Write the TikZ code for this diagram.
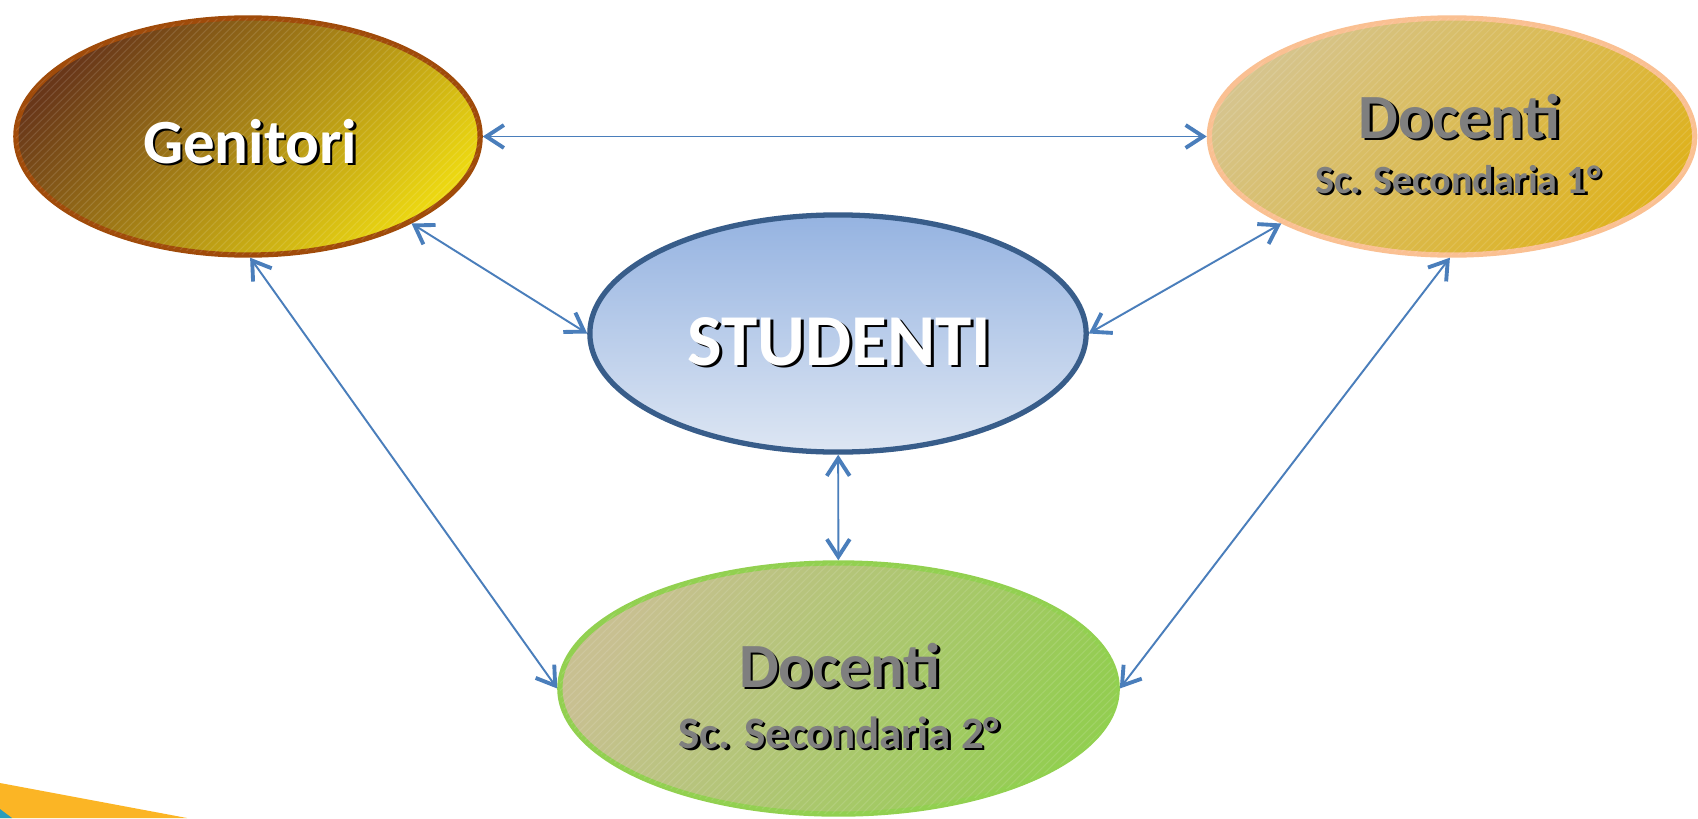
\documentclass[tikz,border=0pt]{standalone}
\usepackage{fontspec}
\setmainfont{Carlito}
\usetikzlibrary{shapes.geometric,arrows.meta,patterns.meta}

\definecolor{linkblue}{RGB}{74,126,187}
\definecolor{genbrown}{RGB}{105,55,25}
\definecolor{genmid}{RGB}{180,142,28}
\definecolor{genyellow}{RGB}{236,216,18}
\definecolor{genline}{RGB}{160,75,10}
\definecolor{onetan}{RGB}{214,196,140}
\definecolor{onemid}{RGB}{218,186,82}
\definecolor{onegold}{RGB}{222,178,30}
\definecolor{oneline}{RGB}{250,192,146}
\definecolor{studtop}{RGB}{149,179,225}
\definecolor{studbot}{RGB}{221,230,243}
\definecolor{studline}{RGB}{56,93,138}
\definecolor{twotan}{RGB}{200,192,145}
\definecolor{twogreen}{RGB}{148,205,82}
\definecolor{twoline}{RGB}{146,208,80}
\definecolor{txtgray}{RGB}{127,127,127}
\definecolor{cornerorange}{RGB}{251,181,37}
\definecolor{cornerteal}{RGB}{42,157,187}

\newcommand{\shtext}[2]{\makebox[0pt][l]{\kern0.75pt\raisebox{-0.75pt}{\textcolor{black}{#2}}}\textcolor{#1}{#2}}

\begin{document}
\begin{tikzpicture}[x=0.01cm,y=-0.01cm,
  >={Straight Barb[length=5pt,width=6.5pt,line width=1.1pt]},
  bubble/.style={ellipse,inner sep=0pt,line width=1.5pt},
  stripes/.style={postaction={opacity=0.12,pattern={Lines[angle=45,distance=1.5pt,line width=0.3pt]},pattern color=white}},
  link/.style={<->,linkblue,line width=0.55pt},
  lbl/.style={anchor=base,inner sep=0pt,font=\bfseries}]

\fill[white] (0,0) rectangle (1698,818);
\useasboundingbox (0,0) rectangle (1698,818);

% corner of the slide
\fill[cornerorange] (0,783) -- (187,818) -- (0,818) -- cycle;
\fill[cornerteal] (0,809) -- (12,818) -- (0,818) -- cycle;

% ellipses
\node[bubble,draw=genline,top color=genbrown,middle color=genmid,bottom color=genyellow,shading angle=45,stripes,
  minimum width=4.64cm,minimum height=2.37cm] (gen) at (248,136.5) {};
\node[bubble,draw=oneline,top color=onetan,middle color=onemid,bottom color=onegold,shading angle=45,stripes,
  minimum width=4.85cm,minimum height=2.37cm] (doc1) at (1452,136.5) {};
\node[bubble,draw=studline,top color=studtop,bottom color=studbot,
  minimum width=4.96cm,minimum height=2.37cm] (stud) at (838,333.5) {};
\node[bubble,draw=twoline,top color=twotan,bottom color=twogreen,shading angle=60,stripes,
  minimum width=5.57cm,minimum height=2.51cm] (doc2) at (838.5,688.5) {};

% links
\draw[link] (gen) -- (doc1);
\draw[link] (gen.-28) -- (stud.west);
\draw[link] (doc1.207) -- (stud.east);
\draw[link] (stud) -- (doc2);
\draw[link] (gen.-89) -- (doc2.west);
\draw[link] (doc1.-91) -- (doc2.east);

% labels
\node[lbl,font=\bfseries\fontsize{17.9pt}{20pt}\selectfont] (gentxt) at (250,163) {\shtext{white}{Genitori}};
\node[lbl,font=\bfseries\fontsize{20.8pt}{24pt}\selectfont] (studtxt) at (839.5,365) {\shtext{white}{STUDENTI}};
\node[lbl,font=\bfseries\fontsize{17.9pt}{20pt}\selectfont] (doc1txt) at (1459.5,138) {\shtext{txtgray}{Docenti}};
\node[lbl,font=\bfseries\fontsize{11.4pt}{13pt}\selectfont] (doc1sub) at (1458,193) {\shtext{txtgray}{Sc. Secondaria 1°}};
\node[lbl,font=\bfseries\fontsize{17.9pt}{20pt}\selectfont] (doc2txt) at (840,687) {\shtext{txtgray}{Docenti}};
\node[lbl,font=\bfseries\fontsize{12.8pt}{15pt}\selectfont] (doc2sub) at (839,748) {\shtext{txtgray}{Sc. Secondaria 2°}};
\end{tikzpicture}
\end{document}
